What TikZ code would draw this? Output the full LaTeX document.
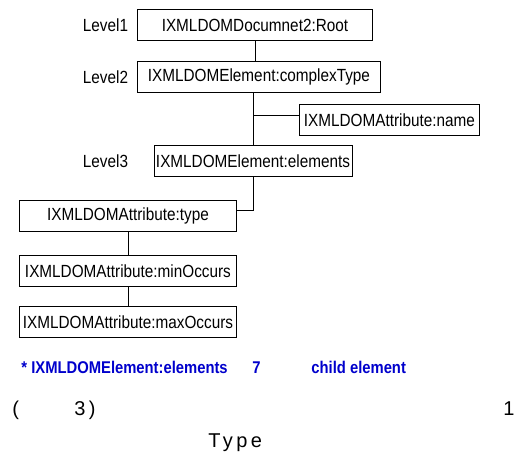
\documentclass[tikz,border=0pt]{standalone}
\usepackage{fontspec}
\setmainfont{Liberation Sans}
\newfontfamily\narrowfont[FakeStretch=0.87]{Liberation Sans}
\newfontfamily\spacedfont[LetterSpace=17]{Liberation Sans}
\usepackage{tikz}
\usetikzlibrary{positioning}
\definecolor{noteblue}{RGB}{0,0,204}

\begin{document}
\begin{tikzpicture}[x=1pt,y=-1pt,line width=0.9pt]
\tikzstyle{box} = [rectangle, draw, inner sep=2pt, minimum height=31pt,
font=\narrowfont\fontsize{17.6}{20}\selectfont]
\tikzstyle{level} = [font=\narrowfont\fontsize{17.6}{20}\selectfont]
\tikzstyle{note} = [text=noteblue, anchor=base west, inner sep=0pt,
font=\narrowfont\bfseries\fontsize{17}{20}\selectfont]
\tikzstyle{big} = [anchor=base west, inner sep=0pt, font=\spacedfont\fontsize{20}{24}\selectfont]
\useasboundingbox (0,0) rectangle (522,471);
% tree
\node [box, anchor=west, minimum width=235pt] (root) at (137,25) {IXMLDOMDocumnet2:Root};
\node [box, anchor=west, minimum width=243pt] (complex) at (137,77) {IXMLDOMElement:complexType};
\node [box, anchor=west, minimum width=180pt] (name) at (299,120) {IXMLDOMAttribute:name};
\node [box, minimum width=198pt] (elements) at (253,161) {IXMLDOMElement:elements};
\node [box, anchor=west, minimum width=217pt] (type) at (19,216) {IXMLDOMAttribute:type};
\node [box, anchor=west, minimum width=217pt] (minocc) at (19,271) {IXMLDOMAttribute:minOccurs};
\node [box, anchor=west, minimum width=217pt] (maxocc) at (19,322) {IXMLDOMAttribute:maxOccurs};
% levels
\node [level] (lev1) at (105.5,25) {Level1};
\node [level] (lev2) at (105.5,77) {Level2};
\node [level] (lev3) at (105.5,161) {Level3};
% links
\draw (root.south) -- (root.south |- complex.north);
\draw (elements.north) -- (elements.north |- complex.south);
\draw ([yshift=5pt]name.west) -- ([yshift=5pt]name.west -| elements.north);
\draw (elements.south) |- ([yshift=6pt]type.east);
\draw (type) -- (minocc);
\draw (minocc) -- (maxocc);
% notes
\node [note] (star) at (21,373) {* IXMLDOMElement:elements};
\node [note] (seven) at (252,373) {7};
\node [note] (child) at (311,373) {child element};
\node [big] (lpar) at (12,415) {(};
\node [big] (three) at (74,415) {3)};
\node [big] (one) at (503,415) {1};
\node [big] (typeword) at (208,447) {Type};
\end{tikzpicture}
\end{document}
